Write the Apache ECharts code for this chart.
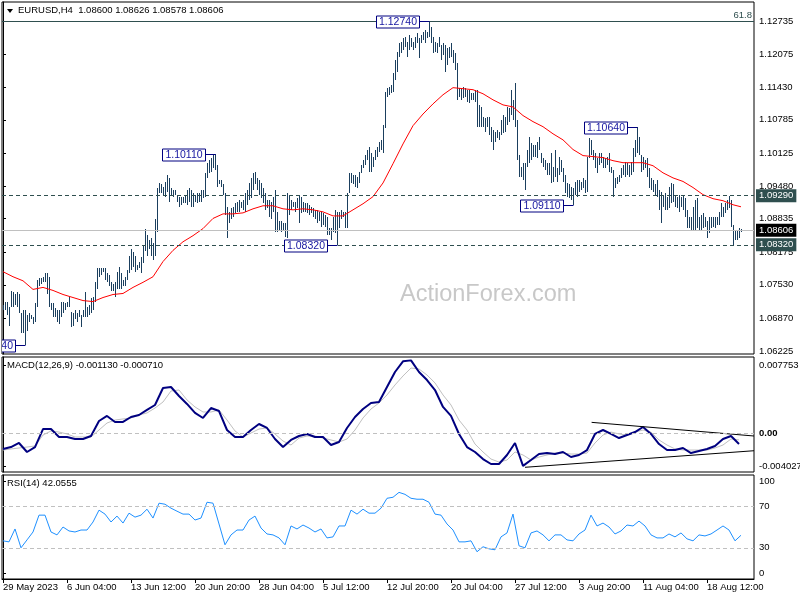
<!DOCTYPE html>
<html><head><meta charset="utf-8">
<script src="https://cdn.jsdelivr.net/npm/echarts@6/dist/echarts.min.js"></script>
<style>html,body{margin:0;padding:0;background:#fff}#c{width:800px;height:600px}</style>
</head><body><div id="c"></div>
<script>
// ---------------- DATA ----------------
const symbolName = 'EURUSD,H4';
const lastOpen = 1.08600, lastClose = 1.08606;
const highs = [
1.0714,1.0720,1.0720,1.0710,1.0740,1.0738,1.0734,1.0738,1.0734,1.0698,
1.0704,1.0704,1.0694,1.0698,1.0694,1.0689,1.0718,1.0763,1.0767,1.0767,
1.0769,1.0777,1.0777,1.0769,1.0718,1.0718,1.0708,1.0704,1.0704,1.0720,
1.0720,1.0718,1.0720,1.0730,1.0700,1.0698,1.0704,1.0698,1.0704,1.0694,
1.0704,1.0738,1.0710,1.0714,1.0728,1.0730,1.0759,1.0787,1.0787,1.0787,
1.0787,1.0787,1.0777,1.0773,1.0758,1.0754,1.0758,1.0779,1.0789,1.0777,
1.0763,1.0769,1.0783,1.0809,1.0823,1.0817,1.0809,1.0793,1.0799,1.0807,
1.0832,1.0864,1.0852,1.0842,1.0846,1.0836,1.0882,1.0945,1.0954,1.0951,
1.0947,1.0956,1.0970,1.0964,1.0945,1.0941,1.0941,1.0931,1.0927,1.0927,
1.0927,1.0931,1.0941,1.0945,1.0941,1.0935,1.0931,1.0935,1.0935,1.0941,
1.0941,1.0974,1.0994,1.1000,1.1004,1.1010,1.1011,1.0990,1.0960,1.0960,
1.0951,1.0935,1.0907,1.0897,1.0905,1.0907,1.0915,1.0917,1.0921,1.0917,
1.0921,1.0935,1.0941,1.0954,1.0964,1.0974,1.0976,1.0964,1.0960,1.0954,
1.0945,1.0935,1.0921,1.0921,1.0917,1.0927,1.0941,1.0897,1.0878,1.0878,
1.0876,1.0876,1.0935,1.0931,1.0921,1.0917,1.0917,1.0925,1.0931,1.0927,
1.0917,1.0915,1.0915,1.0911,1.0907,1.0905,1.0901,1.0901,1.0897,1.0897,
1.0895,1.0891,1.0887,1.0866,1.0866,1.0886,1.0901,1.0897,1.0897,1.0901,
1.0897,1.0897,1.0935,1.0974,1.0974,1.0970,1.0970,1.0966,1.0976,1.0990,
1.1000,1.1010,1.1020,1.1025,1.1014,1.1006,1.1020,1.1025,1.1035,1.1039,
1.1069,1.1134,1.1142,1.1144,1.1148,1.1171,1.1197,1.1213,1.1230,1.1232,
1.1240,1.1242,1.1232,1.1246,1.1240,1.1232,1.1242,1.1250,1.1240,1.1246,
1.1252,1.1256,1.1252,1.1274,1.1262,1.1242,1.1232,1.1230,1.1242,1.1226,
1.1230,1.1226,1.1220,1.1222,1.1230,1.1217,1.1211,1.1191,1.1142,1.1142,
1.1144,1.1142,1.1138,1.1138,1.1132,1.1132,1.1138,1.1138,1.1108,1.1104,
1.1085,1.1083,1.1085,1.1085,1.1065,1.1059,1.1055,1.1059,1.1055,1.1079,
1.1088,1.1085,1.1104,1.1102,1.1138,1.1118,1.1151,1.1079,1.1010,1.0986,
1.0994,1.0994,1.1020,1.1045,1.1033,1.1029,1.1029,1.1035,1.1045,1.1014,
1.1004,1.1000,1.0994,1.0994,1.1014,1.0986,1.1020,1.0984,1.1006,1.1000,
1.0984,1.0970,1.0954,1.0951,1.0947,1.0945,1.0956,1.0960,1.0960,1.0956,
1.0964,1.0960,1.1006,1.1043,1.1039,1.1020,1.1014,1.1004,1.1014,1.1014,
1.1006,1.1004,1.1006,1.1014,1.0986,1.0980,1.0964,1.0966,1.0970,1.0984,
1.0990,1.0996,1.0994,1.0990,1.0996,1.1023,1.1039,1.1064,1.1045,1.1010,
1.1006,1.1000,1.1004,1.0984,1.0964,1.0960,1.0951,1.0960,1.0941,1.0937,
1.0931,1.0935,1.0927,1.0947,1.0954,1.0951,1.0931,1.0927,1.0931,1.0927,
1.0931,1.0925,1.0901,1.0887,1.0886,1.0907,1.0921,1.0925,1.0886,1.0891,
1.0895,1.0887,1.0878,1.0886,1.0886,1.0887,1.0886,1.0887,1.0897,1.0915,
1.0907,1.0915,1.0921,1.0929,1.0921,1.0872,1.0862,1.0862,1.0866,1.08626
];
const lows = [
1.0704,1.0704,1.0694,1.0671,1.0710,1.0710,1.0714,1.0710,1.0698,1.0659,
1.0659,1.0634,1.0661,1.0679,1.0685,1.0675,1.0679,1.0710,1.0750,1.0754,
1.0758,1.0758,1.0734,1.0710,1.0704,1.0690,1.0689,1.0679,1.0675,1.0690,
1.0698,1.0704,1.0710,1.0710,1.0669,1.0671,1.0685,1.0679,1.0690,1.0669,
1.0690,1.0690,1.0690,1.0694,1.0698,1.0704,1.0720,1.0744,1.0769,1.0773,
1.0779,1.0763,1.0758,1.0750,1.0740,1.0740,1.0730,1.0744,1.0744,1.0744,
1.0750,1.0750,1.0763,1.0777,1.0783,1.0789,1.0779,1.0783,1.0787,1.0777,
1.0797,1.0819,1.0809,1.0823,1.0809,1.0803,1.0809,1.0858,1.0935,1.0935,
1.0931,1.0927,1.0937,1.0917,1.0931,1.0927,1.0931,1.0917,1.0907,1.0911,
1.0915,1.0915,1.0911,1.0917,1.0907,1.0907,1.0917,1.0915,1.0917,1.0917,
1.0925,1.0927,1.0964,1.0974,1.0976,1.0984,1.0980,1.0947,1.0951,1.0947,
1.0931,1.0891,1.0846,1.0876,1.0882,1.0887,1.0895,1.0897,1.0897,1.0905,
1.0901,1.0897,1.0911,1.0921,1.0925,1.0941,1.0951,1.0941,1.0931,1.0925,
1.0915,1.0901,1.0905,1.0887,1.0882,1.0897,1.0858,1.0858,1.0862,1.0858,
1.0862,1.0848,1.0846,1.0891,1.0901,1.0907,1.0897,1.0905,1.0876,1.0895,
1.0897,1.0897,1.0895,1.0891,1.0895,1.0887,1.0882,1.0876,1.0878,1.0868,
1.0872,1.0868,1.0852,1.0852,1.0842,1.0858,1.0856,1.0832,1.0866,1.0882,
1.0886,1.0866,1.0866,1.0935,1.0954,1.0951,1.0947,1.0945,1.0954,1.0974,
1.0984,1.0990,1.1000,1.0976,1.0976,1.0986,1.1000,1.1006,1.1016,1.1020,
1.1014,1.1063,1.1124,1.1128,1.1132,1.1134,1.1157,1.1173,1.1203,1.1211,
1.1217,1.1222,1.1203,1.1217,1.1222,1.1217,1.1220,1.1230,1.1201,1.1230,
1.1236,1.1230,1.1240,1.1242,1.1230,1.1211,1.1213,1.1211,1.1222,1.1197,
1.1207,1.1173,1.1187,1.1201,1.1203,1.1191,1.1177,1.1118,1.1124,1.1118,
1.1122,1.1124,1.1114,1.1112,1.1118,1.1118,1.1114,1.1065,1.1065,1.1065,
1.1065,1.1055,1.1065,1.1049,1.1035,1.1020,1.1035,1.1043,1.1039,1.1049,
1.1053,1.1055,1.1069,1.1075,1.1088,1.1079,1.1065,1.1000,1.0966,1.0966,
1.0960,1.0941,1.0986,1.0994,1.1000,1.1006,1.1006,1.1004,1.1020,1.0994,
1.0986,1.0980,1.0970,1.0970,1.0954,1.0956,1.0966,1.0956,1.0970,1.0976,
1.0956,1.0935,1.0927,1.0925,1.0921,1.0911,1.0931,1.0927,1.0937,1.0941,
1.0945,1.0935,1.0937,1.1004,1.1010,1.1000,1.0984,1.0974,1.0990,1.0994,
1.0984,1.0984,1.0990,1.0976,1.0974,1.0927,1.0945,1.0951,1.0956,1.0964,
1.0970,1.0966,1.0970,1.0966,1.0970,1.0976,1.1006,1.1014,1.1010,1.0976,
1.0980,1.0984,1.0966,1.0945,1.0941,1.0937,1.0931,1.0927,1.0901,1.0876,
1.0907,1.0901,1.0901,1.0905,1.0915,1.0917,1.0907,1.0905,1.0897,1.0907,
1.0901,1.0886,1.0866,1.0866,1.0862,1.0862,1.0862,1.0866,1.0862,1.0862,
1.0866,1.0868,1.0846,1.0856,1.0866,1.0868,1.0866,1.0872,1.0872,1.0887,
1.0886,1.0895,1.0901,1.0905,1.0868,1.0832,1.0842,1.0842,1.0846,1.08578
];
// moving average, one reading every 5 bars (last one on the final bar)
const maValues = [
1.0779,1.0769,1.0761,1.0744,1.0748,1.0742,1.0734,1.0728,1.0722,1.0720,
1.0728,1.0734,1.0736,1.0748,1.0758,1.0769,1.0799,1.0821,1.0838,1.0850,
1.0864,1.0884,1.0893,1.0893,1.0895,1.0903,1.0909,1.0909,1.0903,1.0901,
1.0903,1.0901,1.0897,1.0889,1.0889,1.0901,1.0913,1.0927,1.0954,1.0992,
1.1031,1.1067,1.1090,1.1110,1.1128,1.1142,1.1140,1.1138,1.1130,1.1118,
1.1108,1.1104,1.1087,1.1075,1.1065,1.1051,1.1039,1.1020,1.1008,1.1006,
1.1004,1.0998,1.0994,1.0994,1.0994,1.0988,1.0974,1.0964,1.0957,1.0945,
1.0931,1.0923,1.0919,1.0911,1.0907
];
// MACD(12,26,9), one reading every 4 bars
const macdValues = [
-0.00165,-0.00145,-0.00103,-0.00196,-0.00145,0.00041,0.00041,-0.00041,-0.00041,-0.00062,
-0.00062,-0.00031,0.00124,0.00176,0.00114,0.00114,0.00165,0.00186,0.00238,0.00289,
0.00465,0.00475,0.00382,0.00300,0.00207,0.00155,0.00258,0.00227,0.00031,-0.00041,
-0.00041,0.00031,0.00093,0.00052,-0.00062,-0.00145,-0.00072,-0.00031,-0.00010,-0.00041,
-0.00041,-0.00124,-0.00093,0.00052,0.00165,0.00248,0.00310,0.00320,0.00475,0.00630,
0.00740,0.00750,0.00630,0.00547,0.00444,0.00269,0.00176,-0.00010,-0.00145,-0.00196,
-0.00269,-0.00320,-0.00320,-0.00227,-0.00103,-0.00340,-0.00279,-0.00217,-0.00207,-0.00217,
-0.00196,-0.00248,-0.00227,-0.00176,-0.00010,0.00031,-0.00010,-0.00052,-0.00021,0.00010,
0.00062,-0.00010,-0.00114,-0.00176,-0.00176,-0.00155,-0.00207,-0.00186,-0.00165,-0.00134,
-0.00062,-0.00031,-0.001130
];
const signalValues = [
-0.00176,-0.00165,-0.00155,-0.00145,-0.00134,-0.00021,0.00021,0.00010,-0.00010,-0.00041,
-0.00041,-0.00041,0.00031,0.00103,0.00134,0.00145,0.00155,0.00186,0.00207,0.00258,
0.00320,0.00434,0.00444,0.00341,0.00269,0.00217,0.00217,0.00238,0.00134,0.00021,
-0.00041,0.00000,0.00041,0.00052,-0.00010,-0.00083,-0.00124,-0.00052,-0.00031,-0.00031,
-0.00052,-0.00072,-0.00093,-0.00062,0.00031,0.00155,0.00248,0.00310,0.00393,0.00496,
0.00589,0.00671,0.00661,0.00599,0.00517,0.00393,0.00289,0.00134,0.00031,-0.00114,
-0.00196,-0.00269,-0.00300,-0.00279,-0.00196,-0.00227,-0.00279,-0.00248,-0.00227,-0.00207,
-0.00207,-0.00217,-0.00217,-0.00207,-0.00103,-0.00021,0.00010,-0.00010,-0.00021,0.00010,
0.00031,0.00010,-0.00072,-0.00124,-0.00165,-0.00176,-0.00176,-0.00176,-0.00176,-0.00155,
-0.00124,-0.00062,-0.000710
];
const macdTrendUpper = [[294.3, 0.00110], [375.5, -0.00031]];
const macdTrendLower = [[261, -0.00354], [375.5, -0.00183]];
// RSI(14), one reading every 3 bars
const rsiValues = [
36.7,35.7,48.1,30.0,37.6,45.2,61.4,61.4,45.2,42.4,
50.0,46.2,45.2,47.1,47.1,54.8,66.2,62.4,54.8,60.5,
53.8,63.3,59.5,61.4,67.1,58.6,72.9,71.9,68.1,65.2,
62.4,62.4,56.7,58.6,73.8,72.9,52.9,32.9,42.4,47.1,
47.1,56.7,60.5,49.0,43.3,42.4,39.5,32.9,51.0,48.1,
51.9,49.0,45.2,48.1,39.5,40.5,51.0,51.0,66.2,62.4,
67.1,63.3,63.3,68.1,77.6,78.6,83.3,81.4,77.6,76.7,
76.7,73.8,62.4,61.4,52.9,47.1,35.7,35.7,36.7,26.2,
31.0,29.0,28.1,40.5,44.3,62.4,31.9,30.0,44.3,46.2,
42.4,36.7,42.4,42.4,37.6,36.7,43.3,47.1,61.4,51.0,
53.8,50.0,43.3,46.2,51.9,51.0,55.7,51.0,42.4,39.5,
39.5,43.3,40.5,44.3,38.6,36.7,42.4,41.4,43.3,47.1,
51.0,47.1,36.7,42.0555
];
const timeLabels = ['29 May 2023','6 Jun 04:00','13 Jun 12:00','20 Jun 20:00','28 Jun 04:00','5 Jul 12:00',
  '12 Jul 20:00','20 Jul 04:00','27 Jul 12:00','3 Aug 20:00','11 Aug 04:00','18 Aug 12:00'];
const priceTicks = [1.12735,1.12075,1.11430,1.10785,1.10125,1.09480,1.08835,1.08175,1.07530,1.06870,1.06225];
const macdTickText = ['0.007753','0.00','-0.004027'];
const rsiTickText = ['100','70','30','0'];
const fibLevel = 1.12735, fibText = '61.8';
const levelPrices = [1.0929, 1.0832];
const annIdx = [11, 106, 167, 213, 285, 317];
const annPrice = [1.0634, 1.1011, 1.0832, 1.1274, 1.0911, 1.1064];
const annText = ['1.06340','1.10110','1.08320','1.12740','1.09110','1.10640'];

// ---------------- LAYOUT / STYLE ----------------
const SLOTS = 376, BARS_PER_LABEL = 32;
const FONT = 'Liberation Sans', FS = 9.5;
const BAR_COLOR = '#1b3f5e', LEVEL_COLOR = '#2f4f4f';
const pMin = 1.06166, pMax = 1.13110;
const mMin = -0.004027, mMax = 0.007848, mH = 115;
const rH = 104;
const mpp = (mMax - mMin) / mH;
const macdTickPos = [mMax - 8 * mpp, 0, mMin + 6 * mpp];
const rsiTickPos = [100 - 6.5 * 100 / rH, 70, 30, 6 * 100 / rH];
const tickIdx = timeLabels.map((_, k) => k * BARS_PER_LABEL);
const lastI = highs.length - 1;

const barData = highs.map((h, i) => [i, lows[i], h]);
const maData = maValues.map((v, k) => [Math.min(k * 5, lastI), v]);
const macdData = macdValues.map((v, k) => [k * 4, v]);
const sigData = signalValues.map((v, k) => [k * 4, v]);
const rsiData = rsiValues.map((v, k) => [k * 3, v]);
const annData = annIdx.map((i, k) => [i, annPrice[k], k]);

const txt = (extra) => Object.assign({color:'#000', fontFamily:FONT, fontSize:FS}, extra || {});
const hideX = g => ({gridIndex:g, type:'value', min:-0.5, max:SLOTS-0.5, show:false});
const findK = (arr, v) => { let best = 0; arr.forEach((p, k) => { if (Math.abs(p - v) < Math.abs(arr[best] - v)) best = k; }); return best; };
const gridBase = {left:2, width:752, show:true, borderColor:'#000', borderWidth:1, containLabel:false, outerBoundsMode:'none'};

const chart = echarts.init(document.getElementById('c'), null, {renderer:'canvas', width:800, height:600});
chart.setOption({
  animation:false,
  backgroundColor:'#ffffff',
  grid:[
    Object.assign({top:2, height:352}, gridBase),
    Object.assign({top:357, height:mH}, gridBase),
    Object.assign({top:475, height:rH}, gridBase)
  ],
  xAxis:[
    hideX(0), hideX(1),
    {gridIndex:2, type:'value', min:-0.5, max:SLOTS-0.5, position:'bottom',
     axisLine:{show:true, lineStyle:{color:'#000'}},
     axisTick:{show:true, length:4, customValues:tickIdx, lineStyle:{color:'#000'}},
     axisLabel:txt({show:true, customValues:tickIdx, hideOverlap:false, align:'left', margin:3,
       formatter:v => timeLabels[Math.round(v / BARS_PER_LABEL)]}),
     splitLine:{show:false}}
  ],
  yAxis:[
    {gridIndex:0, type:'value', position:'right', min:pMin, max:pMax,
     axisLine:{show:true, lineStyle:{color:'#000'}}, splitLine:{show:false},
     axisTick:{show:true, length:3, customValues:priceTicks, lineStyle:{color:'#000'}},
     axisLabel:txt({customValues:priceTicks, margin:5, formatter:v => v.toFixed(5)})},
    {gridIndex:1, type:'value', position:'right', min:mMin, max:mMax,
     axisLine:{show:true, lineStyle:{color:'#000'}}, splitLine:{show:false},
     axisTick:{show:true, length:3, customValues:macdTickPos, lineStyle:{color:'#000'}},
     axisLabel:txt({customValues:macdTickPos, margin:5,
       formatter:v => { const k = findK(macdTickPos, v); return k === 1 ? '{b|' + macdTickText[k] + '}' : macdTickText[k]; },
       rich:{b:{fontWeight:'bold', fontFamily:FONT, fontSize:FS, color:'#000'}}})},
    {gridIndex:2, type:'value', position:'right', min:0, max:100,
     axisLine:{show:true, lineStyle:{color:'#000'}}, splitLine:{show:false},
     axisTick:{show:true, length:3, customValues:rsiTickPos, lineStyle:{color:'#000'}},
     axisLabel:txt({customValues:rsiTickPos, margin:5, formatter:v => rsiTickText[findK(rsiTickPos, v)]})}
  ],
  graphic:[
    {type:'polygon', shape:{points:[[7,9],[13,9],[10,13]]}, style:{fill:'#000'}},
    {type:'text', x:18, y:10.5, style:{text:symbolName + '  ' + [lastOpen, highs[lastI], lows[lastI], lastClose].map(v => v.toFixed(5)).join(' '),
      font:FS + 'px "' + FONT + '"', fill:'#000', verticalAlign:'middle'}},
    {type:'text', x:7, y:365, style:{text:'MACD(12,26,9) ' + macdValues[macdValues.length-1].toFixed(6) + ' ' + signalValues[signalValues.length-1].toFixed(6),
      font:FS + 'px "' + FONT + '"', fill:'#000', verticalAlign:'middle'}},
    {type:'text', x:7, y:483.5, style:{text:'RSI(14) ' + rsiValues[rsiValues.length-1].toFixed(4),
      font:FS + 'px "' + FONT + '"', fill:'#000', verticalAlign:'middle'}},
    {type:'text', x:400, y:295, z:-1, style:{text:'ActionForex.com', font:'23.5px "' + FONT + '"', fill:'#c8c8c8', verticalAlign:'middle'}}
  ],
  series:[
    {type:'custom', name:'bars', xAxisIndex:0, yAxisIndex:0, z:2, silent:true,
     encode:{x:0, y:[1,2]}, data:barData,
     renderItem:(params, api) => {
       const i = api.value(0);
       const lo = api.coord([i, api.value(1)]);
       const hi = api.coord([i, api.value(2)]);
       const x = Math.round(lo[0]) + 0.5;
       let y1 = Math.round(lo[1]), y2 = Math.round(hi[1]);
       if (y1 - y2 < 1) y1 = y2 + 1;
       return {type:'line', shape:{x1:x, y1:y1, x2:x, y2:y2}, style:{stroke:BAR_COLOR, lineWidth:1}};
     }},
    {type:'line', name:'MA', xAxisIndex:0, yAxisIndex:0, z:3, data:maData, symbol:'none', silent:true,
     lineStyle:{color:'#ff0000', width:1},
     markLine:{symbol:['none','none'], silent:true, animation:false, precision:5,
       data:[
         {yAxis:fibLevel, lineStyle:{color:LEVEL_COLOR, type:'solid', width:1},
          label:txt({show:true, position:'insideEndTop', formatter:fibText, color:LEVEL_COLOR, distance:[2,1]})},
         {yAxis:levelPrices[0], lineStyle:{color:LEVEL_COLOR, type:[4,3], width:1},
          label:txt({show:true, position:'end', distance:2, formatter:levelPrices[0].toFixed(5), color:'#ffffff', backgroundColor:LEVEL_COLOR, padding:[2,3,1,3]})},
         {yAxis:levelPrices[1], lineStyle:{color:LEVEL_COLOR, type:[4,3], width:1},
          label:txt({show:true, position:'end', distance:2, formatter:levelPrices[1].toFixed(5), color:'#ffffff', backgroundColor:LEVEL_COLOR, padding:[2,3,1,3]})},
         {yAxis:lastClose, lineStyle:{color:'#c0c0c0', type:'solid', width:1},
          label:txt({show:true, position:'end', distance:2, formatter:lastClose.toFixed(5), color:'#ffffff', backgroundColor:'#000000', padding:[2,3,1,3]})}
       ]}},
    {type:'custom', name:'notes', xAxisIndex:0, yAxisIndex:0, z:10, clip:true, silent:true,
     encode:{x:0, y:1}, data:annData,
     renderItem:(params, api) => {
       const k = api.value(2);
       const p = api.coord([api.value(0), api.value(1)]);
       const x = Math.round(p[0]) + 0.5, y = Math.round(p[1]) + 0.5;
       const bw = 43, bh = 12, right = x - 10;
       return {type:'group', children:[
         {type:'line', shape:{x1:right, y1:y, x2:x, y2:y}, style:{stroke:'#000080', lineWidth:1}},
         {type:'rect', shape:{x:right - bw, y:y - 5.5, width:bw, height:bh}, style:{fill:'#ffffff', stroke:'#000080', lineWidth:1}},
         {type:'text', style:{text:annText[k], x:right - bw/2, y:y + 0.5, align:'center', verticalAlign:'middle',
           fill:'#1414a0', font:'10.5px "' + FONT + '"'}}
       ]};
     }},
    {type:'line', name:'signal', xAxisIndex:1, yAxisIndex:1, z:2, data:sigData, symbol:'none', silent:true,
     lineStyle:{color:'#c0c0c0', width:1},
     markLine:{symbol:['none','none'], silent:true, animation:false, label:{show:false},
       data:[{yAxis:0, lineStyle:{color:'#c0c0c0', type:[4,3], width:1}}]}},
    {type:'line', name:'macd', xAxisIndex:1, yAxisIndex:1, z:3, data:macdData, symbol:'none', silent:true,
     lineStyle:{color:'#000080', width:2}},
    {type:'line', name:'trendUp', xAxisIndex:1, yAxisIndex:1, z:4, data:macdTrendUpper, symbol:'none', silent:true,
     lineStyle:{color:'#000000', width:1}},
    {type:'line', name:'trendDn', xAxisIndex:1, yAxisIndex:1, z:4, data:macdTrendLower, symbol:'none', silent:true,
     lineStyle:{color:'#000000', width:1}},
    {type:'line', name:'rsi', xAxisIndex:2, yAxisIndex:2, z:3, data:rsiData, symbol:'none', silent:true,
     lineStyle:{color:'#1e90ff', width:1},
     markLine:{symbol:['none','none'], silent:true, animation:false, label:{show:false},
       data:[{yAxis:70, lineStyle:{color:'#c0c0c0', type:[4,3], width:1}},
             {yAxis:30, lineStyle:{color:'#c0c0c0', type:[4,3], width:1}}]}}
  ]
});
</script>
</body></html>
